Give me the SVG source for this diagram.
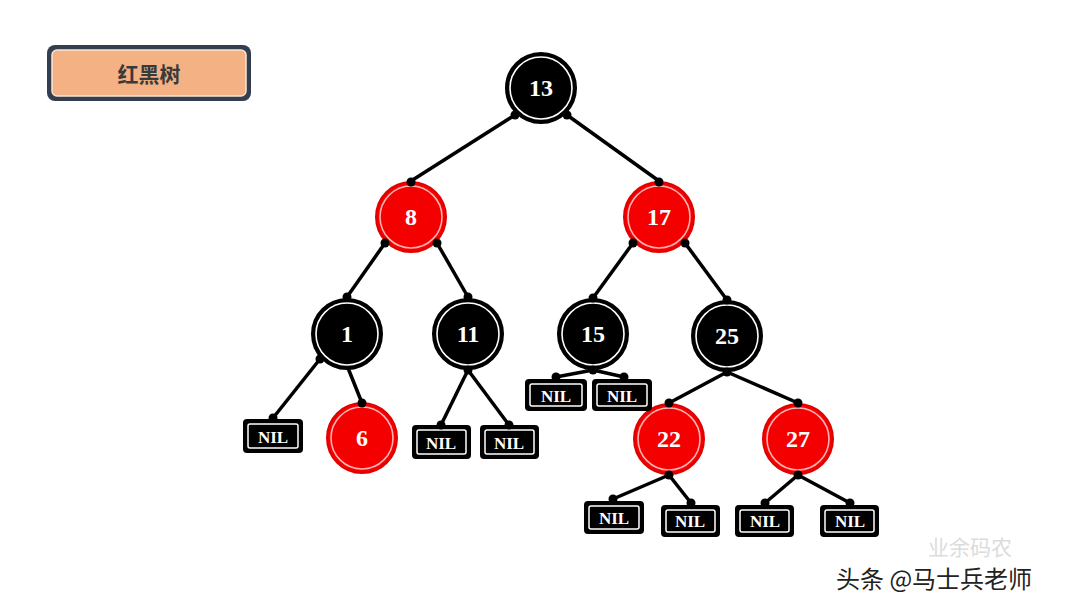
<svg xmlns="http://www.w3.org/2000/svg" width="1080" height="608" viewBox="0 0 1080 608">
<style>
.edge{stroke:#000;stroke-width:3.5;fill:none}
.dot{fill:#000}
.bk{fill:#000;stroke:#000;stroke-width:2}
.rd{fill:#f50000;stroke:#e00000;stroke-width:2}
.ringb{fill:none;stroke:#fff;stroke-width:1.6}
.ringr{fill:none;stroke:#ffb3b3;stroke-width:1.6}
.num{font-family:"Liberation Serif",serif;font-weight:bold;font-size:24px;fill:#fff;text-anchor:middle;dominant-baseline:central}
.nilbox{fill:#000;stroke:#000;stroke-width:2}
.nilin{fill:none;stroke:#fff;stroke-width:1.5}
.nil{font-family:"Liberation Serif",serif;font-weight:bold;font-size:17px;fill:#fff;text-anchor:middle;dominant-baseline:central}
</style>
<rect width="1080" height="608" fill="#fff"/>
<g id="title">
<rect x="47" y="45" width="204" height="56" rx="8" fill="#333f4f"/>
<rect x="52" y="50" width="194" height="46" rx="5" fill="#f4b183" stroke="#fbe3d3" stroke-width="1.5"/>
<text x="149" y="73" font-family="Noto Sans CJK SC, sans-serif" font-weight="bold" font-size="21" fill="#3a3a3a" text-anchor="middle" dominant-baseline="central">红黑树</text>
</g>
<g id="connectors">
<line class="edge" x1="515" y1="115" x2="411" y2="181"/>
<line class="edge" x1="567" y1="115" x2="659" y2="181"/>
<line class="edge" x1="385" y1="243" x2="347" y2="297"/>
<line class="edge" x1="437" y1="243" x2="468" y2="297"/>
<line class="edge" x1="633" y1="243" x2="593" y2="298"/>
<line class="edge" x1="685" y1="243" x2="727" y2="300"/>
<line class="edge" x1="320" y1="359" x2="273" y2="418"/>
<line class="edge" x1="348" y1="368" x2="362" y2="403"/>
<line class="edge" x1="468" y1="370" x2="441" y2="425"/>
<line class="edge" x1="468" y1="370" x2="509" y2="425"/>
<line class="edge" x1="593" y1="370" x2="556" y2="377"/>
<line class="edge" x1="593" y1="370" x2="624" y2="377"/>
<line class="edge" x1="727" y1="372" x2="669" y2="403"/>
<line class="edge" x1="727" y1="372" x2="798" y2="403"/>
<line class="edge" x1="669" y1="475" x2="613" y2="499"/>
<line class="edge" x1="669" y1="475" x2="691" y2="503"/>
<line class="edge" x1="798" y1="475" x2="765" y2="503"/>
<line class="edge" x1="798" y1="475" x2="850" y2="503"/>
</g>
<g id="n13"><circle class="bk" cx="541" cy="88" r="35"/><circle class="ringb" cx="541" cy="88" r="31"/><text class="num" x="541" y="88">13</text></g>
<g id="n8"><circle class="rd" cx="411" cy="217" r="35"/><circle class="ringr" cx="411" cy="217" r="31"/><text class="num" x="411" y="217">8</text></g>
<g id="n17"><circle class="rd" cx="659" cy="217" r="35"/><circle class="ringr" cx="659" cy="217" r="31"/><text class="num" x="659" y="217">17</text></g>
<g id="n1"><circle class="bk" cx="347" cy="334" r="35"/><circle class="ringb" cx="347" cy="334" r="31"/><text class="num" x="347" y="334">1</text></g>
<g id="n11"><circle class="bk" cx="468" cy="334" r="35"/><circle class="ringb" cx="468" cy="334" r="31"/><text class="num" x="468" y="334">11</text></g>
<g id="n15"><circle class="bk" cx="593" cy="334" r="35"/><circle class="ringb" cx="593" cy="334" r="31"/><text class="num" x="593" y="334">15</text></g>
<g id="n25"><circle class="bk" cx="727" cy="336" r="35"/><circle class="ringb" cx="727" cy="336" r="31"/><text class="num" x="727" y="336">25</text></g>
<g id="n6"><circle class="rd" cx="362" cy="438" r="35"/><circle class="ringr" cx="362" cy="438" r="31"/><text class="num" x="362" y="438">6</text></g>
<g id="n22"><circle class="rd" cx="669" cy="439" r="35"/><circle class="ringr" cx="669" cy="439" r="31"/><text class="num" x="669" y="439">22</text></g>
<g id="n27"><circle class="rd" cx="798" cy="439" r="35"/><circle class="ringr" cx="798" cy="439" r="31"/><text class="num" x="798" y="439">27</text></g>
<g id="nil1"><rect class="nilbox" x="244" y="420" width="58" height="32" rx="3"/><rect class="nilin" x="248" y="424" width="50" height="24" rx="2"/><text class="nil" x="273" y="437">NIL</text></g>
<g id="nil2"><rect class="nilbox" x="413" y="426" width="57" height="32" rx="3"/><rect class="nilin" x="417" y="430" width="49" height="24" rx="2"/><text class="nil" x="441" y="443">NIL</text></g>
<g id="nil3"><rect class="nilbox" x="481" y="426" width="57" height="32" rx="3"/><rect class="nilin" x="485" y="430" width="49" height="24" rx="2"/><text class="nil" x="509" y="443">NIL</text></g>
<g id="nil4"><rect class="nilbox" x="526" y="380" width="60" height="30" rx="3"/><rect class="nilin" x="530" y="384" width="52" height="22" rx="2"/><text class="nil" x="556" y="396">NIL</text></g>
<g id="nil5"><rect class="nilbox" x="593" y="380" width="58" height="30" rx="3"/><rect class="nilin" x="597" y="384" width="50" height="22" rx="2"/><text class="nil" x="622" y="396">NIL</text></g>
<g id="nil6"><rect class="nilbox" x="585" y="502" width="58" height="31" rx="3"/><rect class="nilin" x="589" y="506" width="50" height="23" rx="2"/><text class="nil" x="614" y="518">NIL</text></g>
<g id="nil7"><rect class="nilbox" x="662" y="506" width="57" height="30" rx="3"/><rect class="nilin" x="666" y="510" width="49" height="22" rx="2"/><text class="nil" x="690" y="521">NIL</text></g>
<g id="nil8"><rect class="nilbox" x="736" y="506" width="57" height="30" rx="3"/><rect class="nilin" x="740" y="510" width="49" height="22" rx="2"/><text class="nil" x="765" y="521">NIL</text></g>
<g id="nil9"><rect class="nilbox" x="821" y="506" width="57" height="30" rx="3"/><rect class="nilin" x="825" y="510" width="49" height="22" rx="2"/><text class="nil" x="850" y="521">NIL</text></g>
<g id="dots">
<circle class="dot" cx="515" cy="115" r="4.5"/><circle class="dot" cx="567" cy="115" r="4.5"/>
<circle class="dot" cx="411" cy="182" r="4.5"/><circle class="dot" cx="659" cy="182" r="4.5"/>
<circle class="dot" cx="385" cy="243" r="4.5"/><circle class="dot" cx="437" cy="243" r="4.5"/>
<circle class="dot" cx="633" cy="243" r="4.5"/><circle class="dot" cx="685" cy="243" r="4.5"/>
<circle class="dot" cx="347" cy="297" r="4.5"/><circle class="dot" cx="468" cy="297" r="4.5"/>
<circle class="dot" cx="593" cy="298" r="4.5"/><circle class="dot" cx="727" cy="300" r="4.5"/>
<circle class="dot" cx="320" cy="359" r="4.5"/><circle class="dot" cx="273" cy="418" r="4.5"/>
<circle class="dot" cx="362" cy="403" r="4.5"/>
<circle class="dot" cx="468" cy="370" r="4.5"/><circle class="dot" cx="441" cy="425" r="4.5"/><circle class="dot" cx="509" cy="425" r="4.5"/>
<circle class="dot" cx="593" cy="370" r="4.5"/><circle class="dot" cx="556" cy="377" r="4.5"/><circle class="dot" cx="624" cy="377" r="4.5"/>
<circle class="dot" cx="727" cy="372" r="4.5"/><circle class="dot" cx="669" cy="403" r="4.5"/><circle class="dot" cx="798" cy="403" r="4.5"/>
<circle class="dot" cx="669" cy="475" r="4.5"/><circle class="dot" cx="613" cy="499" r="4.5"/><circle class="dot" cx="691" cy="503" r="4.5"/>
<circle class="dot" cx="798" cy="475" r="4.5"/><circle class="dot" cx="765" cy="503" r="4.5"/><circle class="dot" cx="850" cy="503" r="4.5"/>
</g>
<g id="watermark">
<text x="928" y="555" font-family="Noto Sans CJK SC, sans-serif" font-size="21" fill="#dcdcdc">业余码农</text>
<text x="836" y="588" font-family="Noto Sans CJK SC, sans-serif" font-size="24" fill="#222">头条 @马士兵老师</text>
</g>
</svg>
